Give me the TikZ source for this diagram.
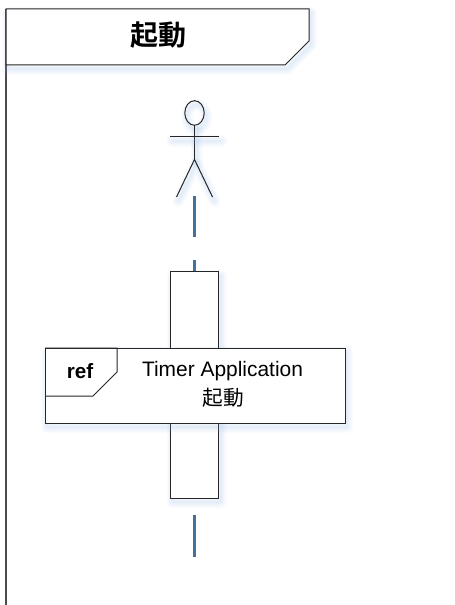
\documentclass[tikz,border=0pt]{standalone}
\usepackage{fontspec}
\setmainfont{Liberation Sans}
\newfontfamily\cjk[BoldFont={Noto Sans CJK JP Bold}]{Noto Sans CJK JP}
\definecolor{lifeblue}{HTML}{41719C}
\definecolor{glowblue}{HTML}{8DB4E2}
\tikzset{
  glowstep/.style={preaction={draw=glowblue, draw opacity=0.05, line width=#1, line join=round, line cap=round, transform canvas={shift={(1.5pt,-3pt)}}}},
  glow/.style={glowstep=9pt, glowstep=7pt, glowstep=5pt, glowstep=3pt, glowstep=1.5pt},
  shapeline/.style={draw=black!85, line width=0.75pt, fill=white, glow},
  lifeline/.style={draw=lifeblue, line width=2pt},
  stickline/.style={draw=black!85, line width=0.75pt, glow},
  textnode/.style={inner sep=0pt, outer sep=0pt}
}
\begin{document}
\begin{tikzpicture}[x=0.75pt, y=-0.75pt]
    \useasboundingbox (0,0) rectangle (454,605);

    % frame
    \draw [draw=black!70, line width=1.1pt] (6,605) -- (6,9);
    \draw [shapeline] (6,9) -- (309,9) -- (309,41) -- (285,65) -- (6,65) -- cycle;
    \node [textnode, font=\cjk\bfseries\fontsize{21}{21}\selectfont] (title) at (158,35.5) {起動};

    % actor
    \draw [stickline] (194.5,113) ellipse (9.7 and 12.3);
    \coordinate (neck) at (194.5,125.5);
    \coordinate (hip) at (194.5,159.5);
    \coordinate (handl) at (170,137);
    \coordinate (handr) at (219,137);
    \coordinate (footl) at (176.5,197);
    \coordinate (footr) at (212.5,197);
    \draw [stickline] (neck) -- (hip);
    \draw [stickline] (handl) -- (handr);
    \draw [stickline] (footl) -- (hip) -- (footr);

    % lifeline pieces
    \foreach \a/\b in {196.5/237.5, 260/272, 515/557} {
      \coordinate (lifetop) at (194.5,\a);
      \coordinate (lifeend) at (194.5,\b);
      \draw [lifeline] (lifetop) -- (lifeend);
    }

    % activation and ref
    \draw [shapeline] (170.5,272) rectangle (218.5,498);
    \draw [shapeline] (45,348) rectangle (345,423);
    \draw [draw=black!85, line width=0.75pt] (45,348) -- (117,348) -- (117,372) -- (93,396) -- (45,396);
    \node [textnode, font=\bfseries\fontsize{15.5}{15.5}\selectfont] (ref) at (80,371) {ref};
    \node [textnode, font=\fontsize{15.7}{15.7}\selectfont] (app) at (222.5,371) {Timer Application};
    \node [textnode, font=\cjk\fontsize{15.5}{15.5}\selectfont] (name) at (223,398) {起動};

\end{tikzpicture}
\end{document}
